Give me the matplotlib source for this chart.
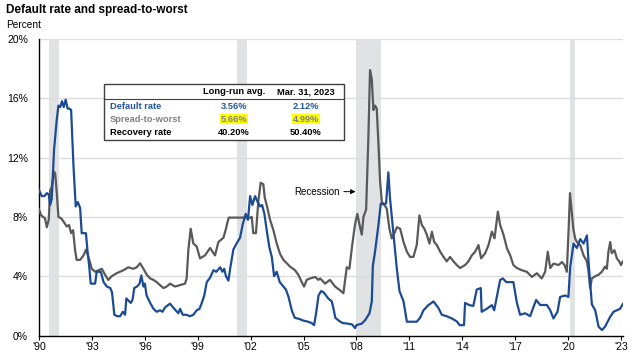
import matplotlib
matplotlib.use("Agg")
from matplotlib import pyplot as plt
from matplotlib.patches import Rectangle

plt.rcParams['font.family'] = ['Liberation Sans', 'DejaVu Sans']

# default rate (blue), year / percent
dr_year = [1990.0, 1990.15, 1990.3, 1990.45, 1990.55, 1990.63, 1990.72, 1990.85, 1991.0, 1991.1,
           1991.2, 1991.3, 1991.4, 1991.51, 1991.62, 1991.72, 1991.82, 1991.95, 1992.08, 1992.2,
           1992.33, 1992.42, 1992.66, 1992.74, 1992.85, 1992.93, 1993.18, 1993.27, 1993.5, 1993.66,
           1993.85, 1994.04, 1994.14, 1994.27, 1994.45, 1994.6, 1994.75, 1994.88, 1994.95, 1995.2,
           1995.3, 1995.4, 1995.55, 1995.7, 1995.8, 1995.92, 1996.0, 1996.1, 1996.3, 1996.49,
           1996.67, 1996.86, 1997.0, 1997.15, 1997.43, 1997.6, 1997.75, 1997.9, 1998.0, 1998.15,
           1998.35, 1998.56, 1998.75, 1998.94, 1999.1, 1999.23, 1999.37, 1999.51, 1999.7, 1999.89,
           2000.05, 2000.27, 2000.4, 2000.5, 2000.6, 2000.74, 2000.85, 2001.02, 2001.2, 2001.4,
           2001.55, 2001.72, 2001.85, 2001.97, 2002.1, 2002.25, 2002.4, 2002.54, 2002.65, 2002.78,
           2002.91, 2003.06, 2003.2, 2003.33, 2003.48, 2003.65, 2003.86, 2004.0, 2004.15, 2004.33,
           2004.5, 2004.8, 2005.0, 2005.2, 2005.45, 2005.6, 2005.71, 2005.85, 2006.0, 2006.15,
           2006.4, 2006.6, 2006.7, 2006.8, 2007.0, 2007.2, 2007.5, 2007.75, 2007.92, 2008.0,
           2008.3, 2008.5, 2008.74, 2008.87, 2008.93, 2009.06, 2009.25, 2009.38, 2009.5, 2009.68,
           2009.81, 2009.9, 2010.1, 2010.29, 2010.44, 2010.67, 2010.86, 2011.42, 2011.61, 2011.8,
           2012.08, 2012.37, 2012.65, 2012.84, 2013.12, 2013.41, 2013.69, 2013.85, 2014.1, 2014.16,
           2014.4, 2014.63, 2014.82, 2015.05, 2015.1, 2015.39, 2015.68, 2015.81, 2016.15, 2016.3,
           2016.5, 2016.9, 2017.1, 2017.28, 2017.57, 2017.85, 2018.0, 2018.19, 2018.42, 2018.8,
           2018.99, 2019.17, 2019.4, 2019.55, 2019.84, 2020.02, 2020.12, 2020.31, 2020.5, 2020.69,
           2020.88, 2021.07, 2021.16, 2021.35, 2021.54, 2021.73, 2021.92, 2022.1, 2022.39, 2022.58,
           2022.77, 2022.95, 2023.1]
dr_val = [9.8, 9.4, 9.4, 9.6, 9.5, 8.8, 9.2, 12.5, 14.5, 15.5,
          15.4, 15.8, 15.4, 15.9, 15.3, 15.3, 15.2, 11.5, 8.7, 9.0,
          8.6, 6.9, 6.9, 5.8, 4.6, 3.5, 3.5, 4.3, 4.3, 3.6,
          3.3, 3.2, 2.9, 1.4, 1.3, 1.3, 1.6, 1.4, 2.5, 2.2,
          2.4, 3.2, 3.3, 3.5, 4.05, 3.3, 3.5, 2.7, 2.2, 1.8,
          1.6, 1.7, 1.6, 1.9, 2.15, 1.9, 1.7, 1.5, 1.8, 1.4,
          1.4, 1.3, 1.4, 1.7, 1.8, 2.2, 2.7, 3.6, 3.9, 4.4,
          4.3, 4.6, 4.3, 4.5, 4.0, 3.7, 4.6, 5.8, 6.2, 6.6,
          7.5, 8.2, 7.8, 9.4, 8.8, 9.4, 9.0, 8.7, 8.8, 8.2,
          7.1, 5.95, 5.3, 4.0, 4.3, 3.6, 3.3, 3.1, 2.6, 1.7,
          1.2, 1.1, 1.0, 0.95, 0.85, 0.7, 1.5, 2.7, 3.0, 2.9,
          2.5, 2.3, 1.8, 1.2, 1.0, 0.85, 0.8, 0.75, 0.5, 0.7,
          0.8, 1.05, 1.5, 2.3, 4.7, 5.7, 7.5, 8.9, 8.85, 8.9,
          11.0, 9.3, 6.8, 4.5, 3.0, 2.3, 0.93, 0.93, 1.2, 1.7,
          2.05, 2.3, 1.85, 1.4, 1.3, 1.15, 0.95, 0.7, 0.7, 2.2,
          2.05, 2.0, 3.1, 3.2, 1.6, 1.8, 2.05, 1.7, 3.75, 3.85,
          3.6, 3.6, 2.2, 1.4, 1.5, 1.3, 1.8, 2.4, 2.06, 2.06,
          1.7, 1.15, 1.6, 2.6, 2.7, 2.6, 4.6, 6.2, 5.9, 6.5,
          6.2, 6.75, 5.0, 2.1, 1.7, 0.6, 0.37, 0.6, 1.27, 1.6,
          1.7, 1.8, 2.12]

# spread-to-worst (gray)
stw_year = [1990.0, 1990.12, 1990.34, 1990.44, 1990.55, 1990.63, 1990.72, 1990.85, 1990.92, 1991.0,
            1991.1, 1991.25, 1991.38, 1991.57, 1991.7, 1991.82, 1991.93, 1992.04, 1992.13, 1992.33,
            1992.52, 1992.67, 1992.8, 1992.99, 1993.18, 1993.37, 1993.56, 1993.74, 1993.93, 1994.12,
            1994.4, 1994.78, 1995.07, 1995.35, 1995.54, 1995.73, 1995.92, 1996.11, 1996.3, 1996.49,
            1996.67, 1996.86, 1997.05, 1997.24, 1997.43, 1997.71, 1998.0, 1998.28, 1998.37, 1998.47,
            1998.6, 1998.75, 1998.94, 1999.13, 1999.41, 1999.7, 1999.98, 2000.17, 2000.46, 2000.6,
            2000.7, 2000.76, 2002.0, 2002.06, 2002.15, 2002.3, 2002.44, 2002.57, 2002.72, 2002.8,
            2002.91, 2003.1, 2003.29, 2003.48, 2003.67, 2003.86, 2004.05, 2004.24, 2004.52, 2004.7,
            2004.9, 2005.03, 2005.18, 2005.37, 2005.66, 2005.84, 2005.94, 2006.22, 2006.5, 2006.79,
            2007.07, 2007.26, 2007.35, 2007.45, 2007.6, 2007.75, 2007.92, 2008.05, 2008.17, 2008.3,
            2008.4, 2008.55, 2008.68, 2008.77, 2008.87, 2008.96, 2009.06, 2009.15, 2009.25, 2009.34,
            2009.44, 2009.53, 2009.72, 2009.87, 2010.0, 2010.19, 2010.29, 2010.48, 2010.67, 2010.86,
            2011.04, 2011.23, 2011.42, 2011.57, 2011.71, 2011.85, 2011.99, 2012.14, 2012.28, 2012.41,
            2012.56, 2012.75, 2012.94, 2013.12, 2013.31, 2013.5, 2013.69, 2013.88, 2014.16, 2014.35,
            2014.54, 2014.73, 2014.92, 2015.07, 2015.3, 2015.49, 2015.68, 2015.83, 2016.02, 2016.15,
            2016.34, 2016.53, 2016.72, 2016.9, 2017.1, 2017.38, 2017.66, 2017.95, 2018.23, 2018.51,
            2018.7, 2018.85, 2018.99, 2019.18, 2019.46, 2019.65, 2019.8, 2019.93, 2020.02, 2020.11,
            2020.21, 2020.3, 2020.4, 2020.5, 2020.69, 2020.88, 2021.07, 2021.16, 2021.25, 2021.35,
            2021.54, 2021.73, 2021.92, 2022.1, 2022.2, 2022.29, 2022.39, 2022.48, 2022.63, 2022.77,
            2022.9, 2023.0, 2023.1]
stw_val = [8.5, 8.1, 7.9, 7.3, 7.8, 9.8, 10.0, 11.05, 10.9, 9.7,
           8.0, 7.9, 7.7, 7.35, 7.45, 6.9, 7.1, 5.8, 5.1, 5.1,
           5.4, 5.8, 5.3, 4.5, 4.3, 4.4, 4.5, 4.1, 3.75, 4.0,
           4.2, 4.4, 4.6, 4.5, 4.6, 4.87, 4.5, 4.1, 3.85, 3.75,
           3.6, 3.4, 3.2, 3.3, 3.5, 3.3, 3.4, 3.5, 3.85, 5.8,
           7.2, 6.2, 6.0, 5.2, 5.4, 5.9, 5.4, 6.3, 6.6, 7.2,
           7.7, 7.95, 7.95, 8.0, 6.9, 6.9, 9.1, 10.3, 10.2, 9.3,
           8.8, 7.8, 7.1, 6.2, 5.5, 5.1, 4.87, 4.64, 4.4, 4.1,
           3.6, 3.3, 3.75, 3.85, 3.95, 3.75, 3.85, 3.5, 3.75, 3.3,
           3.05, 2.85, 3.7, 4.6, 4.5, 6.0, 7.5, 8.2, 7.5, 6.8,
           8.0, 8.5, 13.5, 17.9, 17.3, 15.2, 15.5, 15.3, 12.85, 10.4,
           9.0, 8.9, 8.55, 7.2, 6.55, 7.0, 7.3, 7.2, 6.3, 5.65,
           5.3, 5.3, 6.1, 8.1, 7.45, 7.2, 6.8, 6.2, 7.0, 6.3,
           6.1, 5.65, 5.3, 5.0, 5.3, 5.0, 4.75, 4.55, 4.75, 5.0,
           5.4, 5.65, 6.1, 5.2, 5.55, 6.1, 7.0, 6.55, 8.35, 7.45,
           6.8, 5.9, 5.4, 4.75, 4.55, 4.4, 4.3, 3.95, 4.2, 3.85,
           4.3, 5.65, 4.55, 4.85, 4.75, 4.95, 4.75, 4.3, 6.8, 9.6,
           8.35, 7.2, 6.55, 6.3, 6.1, 5.4, 5.0, 4.3, 3.2, 3.85,
           4.0, 4.1, 4.3, 4.65, 4.5, 5.65, 6.3, 5.55, 5.75, 5.2,
           5.0, 4.75, 4.99]

# recessions (start, end)
rec_start = [1990.55, 2001.2, 2007.98, 2020.1]
rec_end = [1991.12, 2001.8, 2009.4, 2020.4]

tick_years = list(range(1990, 2024, 3))
tick_labels = ["'" + str(y)[2:] for y in tick_years]

row_names = ['Default rate', 'Spread-to-worst', 'Recovery rate']
long_run = ['3.56%', '5.66%', '40.20%']
latest = ['2.12%', '4.99%', '50.40%']
row_colors = ['#2355a0', '#808080', 'black']

blue = '#1c4b94'
gray = '#595959'

fig = plt.figure(figsize=(6.4, 3.6), dpi=100)
ax = fig.add_axes([0.061, 0.068, 0.912, 0.824])

for s, e in zip(rec_start, rec_end):
    ax.axvspan(s, e, color='#e1e2e4', lw=0, zorder=0)

for v in range(4, 21, 4):
    ax.axhline(v, color='#dcdcdc', lw=1, zorder=1)

ax.plot(stw_year, stw_val, color=gray, lw=1.6, zorder=3)
ax.plot(dr_year, dr_val, color=blue, lw=1.6, zorder=4)

ax.set_xlim(1990, 2023.1)
ax.set_ylim(0, 20)
ax.set_yticks(range(0, 21, 4))
ax.set_yticklabels([str(v) + '%' for v in range(0, 21, 4)], fontsize=7.5)
ax.set_xticks(tick_years)
ax.set_xticklabels(tick_labels, fontsize=7.5)
ax.tick_params(axis='y', length=0, pad=8)
ax.tick_params(axis='x', length=3, width=0.8, pad=2)
for sp in ['top', 'right']:
    ax.spines[sp].set_visible(False)
ax.spines['left'].set_linewidth(1)
ax.spines['bottom'].set_linewidth(1)

ax.annotate('Recession', xy=(2007.95, 9.7), xytext=(2007.05, 9.7),
            fontsize=7, va='center', ha='right',
            arrowprops=dict(arrowstyle='-|>', color='black', lw=0.7,
                            mutation_scale=7, shrinkA=1, shrinkB=0))

fig.text(6/640, 1 - 10/360, 'Default rate and spread-to-worst', fontsize=8.5,
         fontweight='bold', va='center')
fig.text(6/640, 1 - 25/360, 'Percent', fontsize=7.3, va='center')

# summary table
def fx(px):
    return px / 640

def fy(py):
    return 1 - py / 360

fs = 6.7
fig.patches.append(Rectangle((fx(104), fy(140)), fx(344) - fx(104), fy(84.3) - fy(140),
                             transform=fig.transFigure, fc='white', ec='#404040', lw=1, zorder=5))
fig.lines.append(plt.Line2D([fx(104), fx(344)], [fy(98.7), fy(98.7)],
                            transform=fig.transFigure, color='#404040', lw=0.8, zorder=6))
fig.text(fx(234), fy(92), 'Long-run avg.', fontsize=fs, fontweight='bold', ha='center',
         va='center', zorder=7)
fig.text(fx(306), fy(92), 'Mar. 31, 2023', fontsize=fs, fontweight='bold', ha='center',
         va='center', zorder=7)
row_y = [106, 119.3, 132.3]
for i in range(3):
    fig.text(fx(110), fy(row_y[i]), row_names[i], fontsize=fs, fontweight='bold',
             color=row_colors[i], va='center', zorder=7)
    hl = None
    if i == 1:
        hl = dict(boxstyle='square,pad=0.05', fc='#ffff00', ec='none')
    fig.text(fx(234), fy(row_y[i]), long_run[i], fontsize=fs, fontweight='bold',
             color=row_colors[i], ha='center', va='center', bbox=hl, zorder=7)
    fig.text(fx(306), fy(row_y[i]), latest[i], fontsize=fs, fontweight='bold',
             color=row_colors[i], ha='center', va='center', bbox=hl, zorder=7)

fig.savefig('out.png', dpi=100)
